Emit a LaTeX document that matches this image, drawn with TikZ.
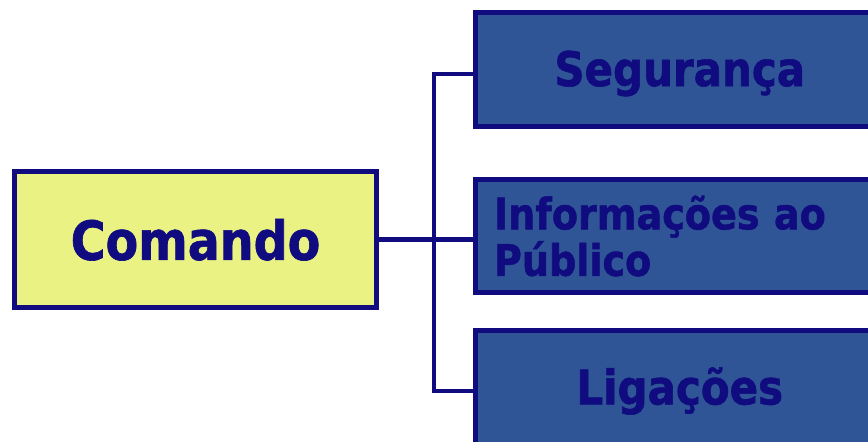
\documentclass[tikz,border=0pt]{standalone}
\usepackage{fontspec}
\setmainfont[FakeStretch=0.88,BoldFeatures={FakeBold=1.2}]{DejaVu Sans}
\usetikzlibrary{calc}
\definecolor{navy}{HTML}{100C80}
\definecolor{paleyellow}{HTML}{EAF284}
\definecolor{boxblue}{HTML}{2F5597}

\begin{document}
\begin{tikzpicture}[x=1pt,y=1pt,
    mainbox/.style={draw=navy,line width=5pt,fill=paleyellow,text=navy,inner sep=0pt,
        minimum width=362pt,minimum height=136.5pt,font=\bfseries\fontsize{54}{56}\selectfont},
    subbox/.style={draw=navy,line width=5pt,fill=boxblue,text=navy,inner sep=0pt,
        minimum width=408.5pt,font=\bfseries\fontsize{47.7}{50}\selectfont},
    link/.style={draw=navy,line width=4.5pt}]
    \useasboundingbox (0,0) rectangle (868,442);
    \clip (0,0) rectangle (868,442);
    \node[mainbox] (comando) at (195.5,202.25) {Comando};
    \node[subbox,minimum height=114pt] (seg) at (679.75,372.5) {\raisebox{-4pt}[\height][\depth]{Segurança}};
    \node[subbox,minimum height=113pt,align=left,text width=371.5pt,inner xsep=18.5pt,
        font=\bfseries\fontsize{43.3}{46.5}\selectfont] (info) at (679.75,206) {Informações ao\\Público};
    \node[subbox,minimum height=121pt] (lig) at (679.75,51) {Ligações};
    \coordinate (bus) at ($(comando.east)+(55,0)$);
    \draw[link] (comando.east) -- (comando.east -| info.west);
    \draw[link] ([yshift=-4.5pt]seg.west) -| (bus) |- (lig.west);
\end{tikzpicture}
\end{document}
